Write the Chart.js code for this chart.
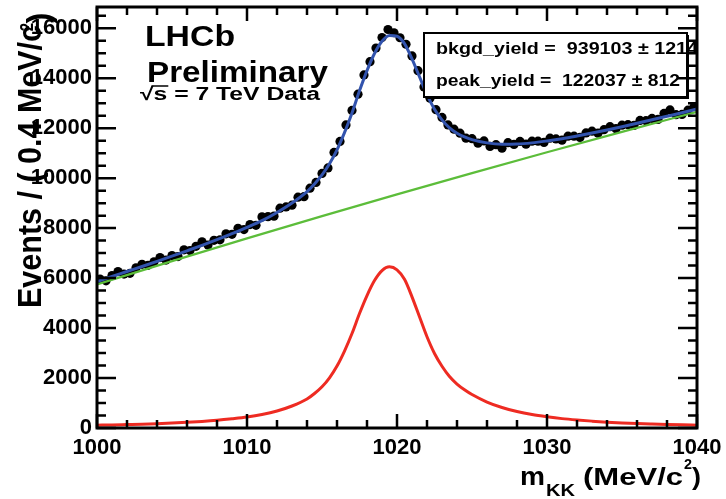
<!DOCTYPE html>
<html>
<head>
<meta charset="utf-8">
<script src="https://cdn.jsdelivr.net/npm/chart.js@4.4.1/dist/chart.umd.min.js"></script>
<style>
html,body{margin:0;padding:0;background:#fff;}
canvas{display:block;}
</style>
</head>
<body>
<canvas id="massChart" width="726" height="499"></canvas>
<script>
/* ================= DATA ================= */
// m(KK) bin centres, 0.4 MeV bins
const binCentres = [
  1000.2,1000.6,1001.0,1001.4,1001.8,1002.2,1002.6,1003.0,1003.4,1003.8,
  1004.2,1004.6,1005.0,1005.4,1005.8,1006.2,1006.6,1007.0,1007.4,1007.8,
  1008.2,1008.6,1009.0,1009.4,1009.8,1010.2,1010.6,1011.0,1011.4,1011.8,
  1012.2,1012.6,1013.0,1013.4,1013.8,1014.2,1014.6,1015.0,1015.4,1015.8,
  1016.2,1016.6,1017.0,1017.4,1017.8,1018.2,1018.6,1019.0,1019.4,1019.8,
  1020.2,1020.6,1021.0,1021.4,1021.8,1022.2,1022.6,1023.0,1023.4,1023.8,
  1024.2,1024.6,1025.0,1025.4,1025.8,1026.2,1026.6,1027.0,1027.4,1027.8,
  1028.2,1028.6,1029.0,1029.4,1029.8,1030.2,1030.6,1031.0,1031.4,1031.8,
  1032.2,1032.6,1033.0,1033.4,1033.8,1034.2,1034.6,1035.0,1035.4,1035.8,
  1036.2,1036.6,1037.0,1037.4,1037.8,1038.2,1038.6,1039.0,1039.4,1039.8
];
const events = [
  5960,5890,6100,6260,6160,6190,6410,6550,6510,6650,
  6820,6720,6900,6860,7130,7100,7270,7450,7320,7510,
  7530,7770,7750,7990,7940,8140,8110,8450,8460,8480,
  8800,8850,8920,9240,9260,9600,9830,10190,10410,11030,
  11470,12130,12710,13360,14130,14660,15210,15630,15950,15820,
  15620,15360,14890,14300,13650,13200,12740,12430,12130,11960,
  11800,11600,11580,11400,11490,11270,11340,11200,11420,11350,
  11470,11360,11480,11480,11430,11600,11570,11520,11680,11680,
  11630,11810,11880,11800,11940,12060,11980,12120,12140,12110,
  12310,12300,12390,12350,12590,12730,12540,12550,12720,12860
];

// fit curves
const curveX = [
  1000,1001,1002,1003,1004,1005,1006,1007,1008,1009,1010,1011,1012,1013,1014,
  1014.5,1015,1015.5,1016,1016.5,1017,1017.5,1018,1018.5,1019,1019.5,1020,
  1020.5,1021,1021.5,1022,1022.5,1023,1023.5,1024,1024.5,1025,
  1026,1027,1028,1029,1030,1031,1032,1033,1034,1035,1036,1037,1038,1039,1040
];
const fitTotal = [
  5865,6062,6264,6464,6669,6878,7092,7309,7536,7777,8028,8297,8626,9004,9462,
  9770,10128,10576,11134,11822,12609,13497,14304,14991,15477,15714,15680,
  15386,14772,14058,13344,12759,12334,12009,11794,11649,11543,
  11412,11359,11366,11412,11488,11577,11686,11804,11927,12058,12194,12334,12476,12619,12765
];
const fitPeak = [
  115,125,140,155,175,200,230,265,310,370,440,540,680,880,1160,
  1380,1650,2010,2480,3080,3780,4580,5300,5900,6300,6450,6330,
  5950,5250,4450,3650,2980,2470,2060,1760,1530,1340,
  1040,820,660,540,450,375,320,275,235,205,180,160,142,127,115
];
const bkgX = [1000,1005,1010,1015,1020,1025,1030,1035,1040];
const fitBkg = [5750,6678,7588,8478,9350,10203,11038,11853,12650];

const xMajor = [1000,1010,1020,1030,1040];
const yMajor = [0,2000,4000,6000,8000,10000,12000,14000,16000];

const FONT = '"Liberation Sans", Arial, Helvetica, sans-serif';

function pts(xs, ys){ return xs.map((x,i)=>({x:x, y:ys[i]})); }

// draw text squeezed/stretched to a given width (picture is stretched horizontally)
function fitText(ctx, txt, x, y, w, size){
  ctx.font = "bold " + size + "px " + FONT;
  const m = ctx.measureText(txt).width;
  ctx.save();
  ctx.translate(x, y);
  ctx.scale(w / m, 1);
  ctx.textAlign = "left";
  ctx.textBaseline = "alphabetic";
  ctx.fillText(txt, 0, 0);
  ctx.restore();
}

/* ================= DECORATION PLUGIN ================= */
const rootStyle = {
  id: "rootStyle",
  beforeDraw(chart){
    const c = chart.ctx;
    c.save();
    c.fillStyle = "#fff";
    c.fillRect(0, 0, chart.width, chart.height);
    c.restore();
  },
  afterDraw(chart){
    const c = chart.ctx, a = chart.chartArea;
    const xs = chart.scales.x, ys = chart.scales.y;
    c.save();
    c.fillStyle = "#000";
    c.strokeStyle = "#000";

    // stats box
    c.fillStyle = "#fff";
    c.fillRect(424, 33, 263, 64);
    c.fillStyle = "#000";
    c.fillRect(426, 96, 263, 3);
    c.fillRect(686, 35, 3, 64);
    c.lineWidth = 2;
    c.strokeRect(424, 33, 263, 64);
    fitText(c, "bkgd_yield =  939103 \u00b1 1214", 436, 54, 262, 17);
    fitText(c, "peak_yield =  122037 \u00b1 812", 436, 86, 244, 17);

    // frame
    c.lineWidth = 3;
    c.strokeRect(a.left, a.top, a.right - a.left, a.bottom - a.top);

    // inward ticks
    c.lineWidth = 2.5;
    c.beginPath();
    for (let v = 1000; v <= 1040; v += 2) {
      const px = xs.getPixelForValue(v);
      const len = v % 10 === 0 ? 14 : 8;
      c.moveTo(px, a.bottom); c.lineTo(px, a.bottom - len);
      c.moveTo(px, a.top); c.lineTo(px, a.top + len);
    }
    for (let v = 0; v <= 16500; v += 500) {
      const py = ys.getPixelForValue(v);
      const len = v % 2000 === 0 ? 19 : 9;
      c.moveTo(a.left, py); c.lineTo(a.left + len, py);
      c.moveTo(a.right, py); c.lineTo(a.right - len, py);
    }
    c.stroke();

    // tick labels
    c.fillStyle = "#000";
    c.font = "bold 22px " + FONT;
    c.textAlign = "right";
    c.textBaseline = "middle";
    yMajor.forEach(v => c.fillText(String(v), 92, ys.getPixelForValue(v)));
    c.textAlign = "center";
    xMajor.forEach(v => c.fillText(String(v), xs.getPixelForValue(v), 448));

    // x title
    fitText(c, "m", 520, 485, 25, 25);
    fitText(c, "KK", 546, 496, 29, 16);
    fitText(c, "(MeV/c", 583, 485, 100, 24);
    fitText(c, "2", 684, 469, 8, 14);
    fitText(c, ")", 692, 485, 9, 24);

    // y title (rotated)
    c.save();
    c.translate(41, 308);
    c.rotate(-Math.PI / 2);
    c.scale(1, 1.2);
    c.font = "bold 27px " + FONT;
    const main = "Events / ( 0.4 MeV/c";
    const mw = c.measureText(main).width;
    c.save();
    c.scale(283 / mw, 1);
    c.textAlign = "left";
    c.textBaseline = "alphabetic";
    c.fillText(main, 0, 0);
    c.restore();
    c.font = "bold 15px " + FONT;
    c.fillText("2", 281, -11);
    c.font = "bold 27px " + FONT;
    const pw = c.measureText(")").width;
    c.save();
    c.translate(290, 0);
    c.scale(11 / pw, 1);
    c.fillText(")", 0, 0);
    c.restore();
    c.restore();

    // LHCb label
    fitText(c, "LHCb", 145, 46, 90, 29);
    fitText(c, "Preliminary", 147, 82, 181, 29);
    c.font = "bold 18px " + FONT;
    const full = "\u221as = 7 TeV Data";
    const sc = 180 / c.measureText(full).width;
    const wRoot = c.measureText("\u221a").width * sc;
    const wS = c.measureText("s").width * sc;
    fitText(c, full, 140, 100, 180, 18);
    c.lineWidth = 1.5;
    c.beginPath();
    c.moveTo(140 + wRoot * 0.85, 86);
    c.lineTo(140 + wRoot + wS + 1, 86);
    c.stroke();

    c.restore();
  }
};

/* ================= CHART ================= */
new Chart(document.getElementById("massChart"), {
  type: "scatter",
  data: {
    datasets: [
      {
        label: "fit",
        data: pts(curveX, fitTotal),
        showLine: true,
        borderColor: "#3253ad",
        borderWidth: 3,
        pointRadius: 0,
        cubicInterpolationMode: "monotone",
        order: 1
      },
      {
        label: "background",
        data: pts(bkgX, fitBkg),
        showLine: true,
        borderColor: "#5cbd3a",
        borderWidth: 2.2,
        pointRadius: 0,
        cubicInterpolationMode: "monotone",
        order: 2
      },
      {
        label: "peak",
        data: pts(curveX, fitPeak),
        showLine: true,
        borderColor: "#ee2b22",
        borderWidth: 3,
        pointRadius: 0,
        cubicInterpolationMode: "monotone",
        order: 3
      },
      {
        label: "data",
        data: pts(binCentres, events),
        showLine: false,
        backgroundColor: "#000",
        borderColor: "#000",
        borderWidth: 0,
        pointRadius: 4.6,
        order: 4
      }
    ]
  },
  options: {
    responsive: false,
    animation: false,
    layout: { padding: { left: 97, right: 29, top: 7, bottom: 71 } },
    plugins: { legend: { display: false }, tooltip: { enabled: false } },
    scales: {
      x: { type: "linear", min: 1000, max: 1040, display: false },
      y: { type: "linear", min: 0, max: 16850, display: false }
    }
  },
  plugins: [rootStyle]
});
</script>
</body>
</html>
